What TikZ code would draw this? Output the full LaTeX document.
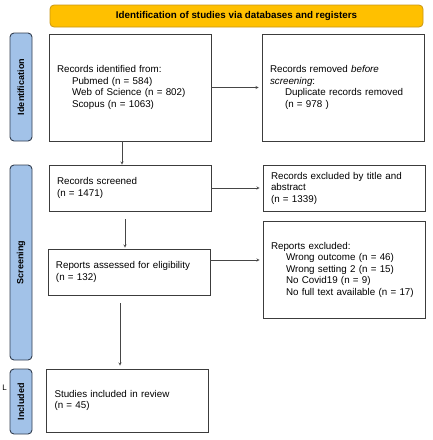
\documentclass[tikz,border=0pt]{standalone}
\usepackage{fontspec}
\setmainfont{Liberation Sans}
\usetikzlibrary{shapes,arrows,positioning,calc}
\definecolor{headergold}{RGB}{255,192,0}
\definecolor{headerline}{RGB}{200,150,20}
\definecolor{phaseblue}{RGB}{162,194,232}
\definecolor{phaseline}{RGB}{50,62,80}
\definecolor{boxline}{RGB}{60,60,60}
\definecolor{flowgray}{RGB}{70,70,70}
\tikzset{
    % Header banner style
    banner/.style={
        rectangle, draw=headerline, fill=headergold, line width=0.8pt,
        minimum width=373pt, minimum height=22pt,
        rounded corners=4pt, font=\fontsize{9.8}{11}\selectfont\bfseries
    },
    % Phase sidebar style
    phasebar/.style={
        rectangle, draw=phaseline, fill=phaseblue, line width=0.9pt,
        minimum height=22pt, rounded corners=4pt, rotate=90,
        font=\fontsize{9}{10}\selectfont\bfseries
    },
    % Record box style
    recbox/.style={
        rectangle, draw=boxline, fill=white, line width=0.8pt,
        text width=146pt, inner xsep=8pt, align=left,
        font=\fontsize{9.8}{11.5}\selectfont
    },
    % Flow arrows
    flowarrow/.style={
        ->, >=stealth, thin, color=flowgray
    }
}
\newcommand{\subline}{\hspace*{15pt}}

\begin{document}
\begin{tikzpicture}[x=1pt, y=-1pt]
\useasboundingbox (0,0) rectangle (432,440);

% Header
\node[banner] (header) at (236.5,16) {Identification of studies via databases and registers};

% Phase sidebars
\node[phasebar, minimum width=108pt] (idbar) at (21,87) {Identification};
\node[phasebar, minimum width=195pt] (scrbar) at (21,262.5) {Screening};
\node[phasebar, minimum width=65pt] (incbar) at (21,401.5) {Included};
\node[font=\fontsize{8}{9}\selectfont, inner sep=0pt] (stray) at (4.5,388) {L};

% Identification
\node[recbox, minimum height=107pt] (recid) at (130,87.5) {Records identified from:\\
\subline Pubmed (n = 584)\\
\subline Web of Science (n = 802)\\
\subline Scopus (n = 1063)};
\node[recbox, minimum height=107pt] (recrem) at (343,87.5) {Records removed \textit{before}\\
\textit{screening}:\\
\subline Duplicate records removed\\
\subline (n = 978 )\\[10pt]};

% Screening
\node[recbox, minimum height=46pt] (recscr) at (130,188) {Records screened\\
(n = 1471)};
\node[recbox, minimum height=46pt] (recexc) at (344,188) {Records excluded by title and\\
abstract\\
(n = 1339)};
\node[recbox, minimum height=46pt] (repass) at (129,272) {Reports assessed for eligibility\\
(n = 132)};
\node[recbox, minimum height=97pt] (repexc) at (344,269.5) {Reports excluded:\\
\subline Wrong outcome (n = 46)\\
\subline Wrong setting 2 (n = 15)\\
\subline No Covid19 (n = 9)\\
\subline No full text available (n = 17)};

% Included
\node[recbox, minimum height=63pt] (incl) at (127.5,400.5) {Studies included in review\\
(n = 45)\\[8pt]};

% Flow arrows
\draw[flowarrow, shorten >=3pt] (recid.east) -- (recrem.west);
\draw[flowarrow] ([xshift=-8pt]recid.south) -- ([xshift=-8pt]recid.south |- recscr.north);
\draw[flowarrow, shorten >=3pt] (recscr.east) -- (recexc.west);
\draw[flowarrow, shorten <=8pt, shorten >=1pt] ([xshift=-5pt]recscr.south) -- ([xshift=-5pt]recscr.south |- repass.north);
\draw[flowarrow, shorten >=3pt] ([yshift=12pt]repass.east) -- ([yshift=12pt]repass.east -| repexc.west);
\draw[flowarrow, shorten <=8pt, shorten >=3pt] ([xshift=-9pt]repass.south) -- ([xshift=-9pt]repass.south |- incl.north);

\end{tikzpicture}
\end{document}
